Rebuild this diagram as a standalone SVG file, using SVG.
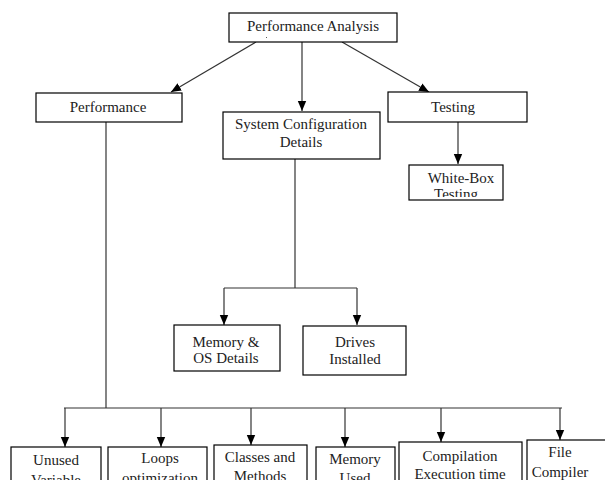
<svg xmlns="http://www.w3.org/2000/svg" width="605" height="480" viewBox="0 0 605 480">
<style>
.box{fill:#fff;stroke:#000;stroke-width:1.2}
.t{font-family:'Liberation Serif','Times New Roman',Times,'DejaVu Serif',serif;font-size:15px;fill:#222;text-anchor:middle}
.c{fill:none;stroke:#333;stroke-width:1.2}
</style>
<defs>
<marker id="ah" markerUnits="userSpaceOnUse" markerWidth="10" markerHeight="10" viewBox="0 0 10 10" refX="10" refY="5" orient="auto">
<path d="M0,0.8 L10,5 L0,9.2 Z" fill="#000"/>
</marker>
<clipPath id="wbclip"><rect x="409" y="165" width="94" height="32"/></clipPath>
</defs>
<rect width="605" height="480" fill="#fff"/>
<g id="connectors">
<line class="c" x1="256" y1="42" x2="171" y2="92" marker-end="url(#ah)"/>
<line class="c" x1="302" y1="42" x2="302" y2="111" marker-end="url(#ah)"/>
<line class="c" x1="342" y1="42" x2="429" y2="92" marker-end="url(#ah)"/>
<line class="c" x1="458" y1="122" x2="458" y2="164" marker-end="url(#ah)"/>
<polyline class="c" points="295,159 295,288"/>
<line class="c" x1="224" y1="288" x2="357" y2="288"/>
<line class="c" x1="224" y1="288" x2="224" y2="325" marker-end="url(#ah)"/>
<line class="c" x1="357" y1="288" x2="357" y2="325" marker-end="url(#ah)"/>
<line class="c" x1="106" y1="122" x2="106" y2="408"/>
<line class="c" x1="64" y1="408" x2="562" y2="408"/>
<line class="c" x1="65" y1="408" x2="65" y2="447" marker-end="url(#ah)"/>
<line class="c" x1="161" y1="408" x2="161" y2="447" marker-end="url(#ah)"/>
<line class="c" x1="251" y1="408" x2="251" y2="445" marker-end="url(#ah)"/>
<line class="c" x1="345" y1="408" x2="345" y2="447" marker-end="url(#ah)"/>
<line class="c" x1="441" y1="408" x2="441" y2="442" marker-end="url(#ah)"/>
<line class="c" x1="560" y1="408" x2="560" y2="440" marker-end="url(#ah)"/>
</g>
<g id="performance-analysis">
<rect class="box" x="229" y="13" width="168" height="29"/>
<text class="t" x="313" y="31">Performance Analysis</text>
<rect x="266" y="37" width="1" height="1" fill="#555"/>
</g>
<g id="performance">
<rect class="box" x="36" y="93" width="146" height="29"/>
<text class="t" x="108" y="112">Performance</text>
</g>
<g id="system-config">
<rect class="box" x="223" y="112" width="157" height="47"/>
<text class="t" x="301" y="129">System Configuration</text>
<text class="t" x="301" y="147">Details</text>
</g>
<g id="testing">
<rect class="box" x="388" y="92" width="139" height="30"/>
<text class="t" x="453" y="112">Testing</text>
</g>
<g id="white-box">
<rect class="box" x="409" y="165" width="94" height="35"/>
<text class="t" x="461" y="183">White-Box</text>
<text class="t" x="456" y="199" clip-path="url(#wbclip)">Testing</text>
</g>
<g id="memory-os">
<rect class="box" x="174" y="325" width="106" height="46"/>
<text class="t" x="226" y="347">Memory &amp;</text>
<text class="t" x="226" y="363">OS Details</text>
</g>
<g id="drives">
<rect class="box" x="303" y="326" width="103" height="49"/>
<text class="t" x="355" y="347">Drives</text>
<text class="t" x="355" y="364">Installed</text>
</g>
<g id="unused">
<rect class="box" x="11" y="447" width="90" height="40"/>
<text class="t" x="56" y="465">Unused</text>
<text class="t" x="56" y="485">Variable</text>
</g>
<g id="loops">
<rect class="box" x="108" y="447" width="99" height="40"/>
<text class="t" x="160" y="463">Loops</text>
<text class="t" x="160" y="483">optimization</text>
</g>
<g id="classes">
<rect class="box" x="214" y="445" width="93" height="40"/>
<text class="t" x="260" y="462">Classes and</text>
<text class="t" x="260" y="481">Methods</text>
</g>
<g id="memory-used">
<rect class="box" x="316" y="447" width="79" height="40"/>
<text class="t" x="355" y="464">Memory</text>
<text class="t" x="355" y="483">Used</text>
</g>
<g id="compilation">
<rect class="box" x="399" y="442" width="123" height="40"/>
<text class="t" x="460" y="461">Compilation</text>
<text class="t" x="460" y="479">Execution time</text>
</g>
<g id="file-compiler">
<rect class="box" x="527" y="440" width="80" height="45"/>
<text class="t" x="560" y="457">File</text>
<text class="t" x="560" y="477">Compiler</text>
</g>
</svg>
